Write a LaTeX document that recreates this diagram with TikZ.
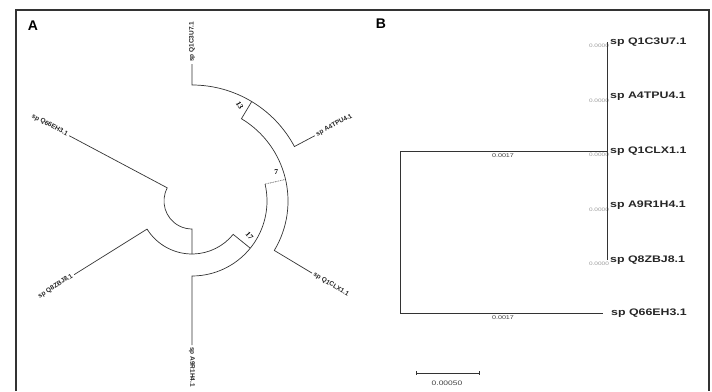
\documentclass[tikz,border=0pt]{standalone}
\usepackage{fontspec}
\newfontfamily\panelfont{Liberation Sans}
\newfontfamily\widefont[FakeStretch=1.3]{Liberation Sans}
\newfontfamily\bootfont{Liberation Serif}
\def\sz#1{\fontsize{#1}{#1}\selectfont}

\begin{document}
\begin{tikzpicture}[x=1pt, y=-1pt,
		branchA/.style={line width=0.7pt, color=black!80},
		branchB/.style={line width=0.8pt, color=black!80},
		leafA/.style={inner sep=1pt, color=black!85, font=\panelfont\bfseries\sz{6.5}},
		leafB/.style={inner sep=1pt, color=black!85, font=\widefont\bfseries\sz{9.5}},
		boot/.style={inner sep=0pt, font=\bootfont\bfseries\sz{7.5}},
		blen/.style={inner sep=0pt, color=black!75, font=\widefont\sz{5.5}},
		zero/.style={inner sep=0pt, color=black!40, font=\widefont\sz{5}}]
		%%%%% START %%%%%
		
		\useasboundingbox (0,0) rectangle (712,391);
		\draw[line width=1.2pt, color=black!80] (16,391) -- (16,10) -- (709,10) -- (709,391);
		
		\node[font=\panelfont\bfseries\sz{14}] (panA) at (33,26) {A};
		\node[font=\panelfont\bfseries\sz{14}] (panB) at (381,24) {B};
		
		%%%%% A: circular tree %%%%%
		\begin{scope}[shift={(192,201)}]
			\coordinate (tQ1C) at (90:137pt);
			\coordinate (tA4T) at (28:139pt);
			\coordinate (tQ1L) at (-31:140pt);
			\coordinate (tA9R) at (270:144pt);
			\coordinate (tQ8Z) at (212:139pt);
			\coordinate (tQ66) at (152:139pt);
			
			\draw[branchA] (tQ66) -- (152:28pt) arc (152:270:28pt) -- (270:53pt);
			\draw[branchA] (tQ8Z) -- (212:53pt) arc (212:321:53pt) -- (321:75pt);
			\draw[branchA] (tA9R) -- (270:75pt) arc (270:373:75pt);
			\draw[branchA, densely dotted] (13:75pt) -- (13:96pt);
			\draw[branchA] (tQ1L) -- (-31:96pt) arc (-31:59:96pt) -- (59:116pt);
			\draw[branchA] (tA4T) -- (28:116pt) arc (28:90:116pt) -- (tQ1C);
			
			\node[leafA, anchor=west, rotate=90] (lQ1C) at (90:138pt) {sp Q1C3U7.1};
			\node[leafA, anchor=west, rotate=28] (lA4T) at (28:140pt) {sp A4TPU4.1};
			\node[leafA, anchor=west, rotate=-31] (lQ1L) at (-31:141pt) {sp Q1CLX1.1};
			\node[leafA, anchor=west, rotate=-90] (lA9R) at (270:145pt) {sp A9R1H4.1};
			\node[leafA, anchor=east, rotate=32] (lQ8Z) at (212:140pt) {sp Q8ZBJ8.1};
			\node[leafA, anchor=east, rotate=-28] (lQ66) at (152:140pt) {sp Q66EH3.1};
			
			\node[boot, rotate=-60] (b13) at (63.5:107pt) {13};
			\node[boot] (b7) at (19:89pt) {7};
			\node[boot, rotate=-50] (b17) at (-31:67pt) {17};
		\end{scope}
		
		%%%%% B: rectangular tree %%%%%
		\coordinate (rT) at (400,151);
		\coordinate (rB) at (400,313);
		\coordinate (cT) at (607,42);
		\coordinate (cM) at (607,151);
		\coordinate (cE) at (607,260);
		\coordinate (tQ66b) at (603,313);
		
		\node[zero] (z1) at (599,46) {0.0000};
		\node[zero] (z2) at (599,100.5) {0.0000};
		\node[zero] (z3) at (599,155) {0.0000};
		\node[zero] (z4) at (599,209.5) {0.0000};
		\node[zero] (z5) at (599,264) {0.0000};
		
		\draw[branchB] (cT) -- (cE);
		\draw[branchB] (cM) -- (rT) -- (rB) -- (tQ66b);
		
		\node[leafB, anchor=west] (sQ1C) at (609,42) {sp Q1C3U7.1};
		\node[leafB, anchor=west] (sA4T) at (609,96.5) {sp A4TPU4.1};
		\node[leafB, anchor=west] (sQ1L) at (609,151) {sp Q1CLX1.1};
		\node[leafB, anchor=west] (sA9R) at (609,205.5) {sp A9R1H4.1};
		\node[leafB, anchor=west] (sQ8Z) at (609,260) {sp Q8ZBJ8.1};
		\node[leafB, anchor=west] (sQ66) at (610,313.5) {sp Q66EH3.1};
		
		\node[blen] (lenT) at (503,155.5) {0.0017};
		\node[blen] (lenB) at (503,318) {0.0017};
		
		\coordinate (barL) at (416,373);
		\coordinate (barR) at (479,373);
		\draw[branchB] (barL) -- (barR);
		\draw[branchB] (416,371) -- (416,375);
		\draw[branchB] (479,371) -- (479,375);
		\node[blen, font=\widefont\sz{6.5}] (barlab) at (447,383) {0.00050};
		
		%%%%% END %%%%%
	\end{tikzpicture}
\end{document}
